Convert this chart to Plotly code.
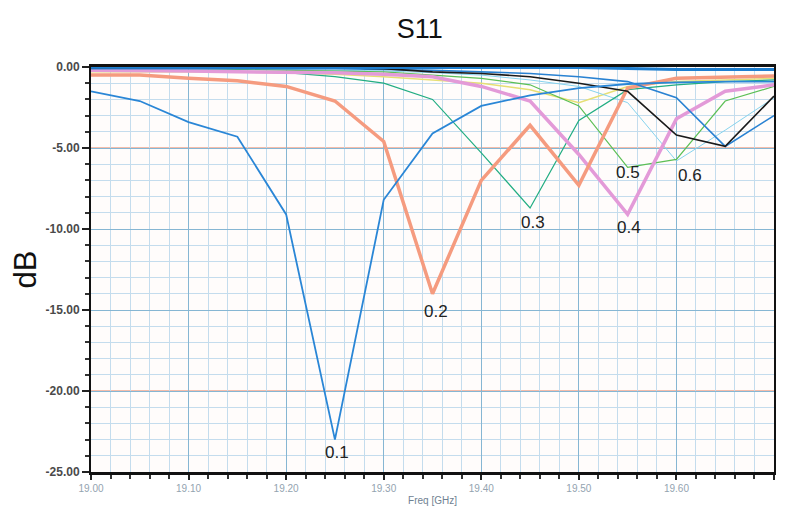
import plotly.graph_objects as go

freq = [19.00, 19.05, 19.10, 19.15, 19.20, 19.25, 19.30, 19.35, 19.40, 19.45, 19.50, 19.55, 19.60, 19.65, 19.70]

s_ref = [-0.02, -0.02, -0.02, -0.02, -0.02, -0.02, -0.02, -0.02, -0.02, -0.02, -0.03, -0.1, -0.15, -0.15, -0.15]
s_01 = [-1.5, -2.1, -3.4, -4.3, -9.1, -23.0, -8.2, -4.1, -2.4, -1.75, -1.3, -1.05, -0.95, -0.9, -0.9]
s_02 = [-0.5, -0.5, -0.7, -0.85, -1.2, -2.1, -4.6, -14.0, -7.0, -3.6, -7.3, -1.3, -0.7, -0.6, -0.55]
s_03 = [-0.15, -0.2, -0.25, -0.3, -0.35, -0.6, -1.0, -2.0, -5.3, -8.7, -3.3, -1.4, -1.1, -0.9, -0.8]
s_04 = [-0.2, -0.2, -0.25, -0.3, -0.3, -0.35, -0.45, -0.6, -1.2, -2.1, -5.4, -9.1, -3.2, -1.5, -1.1]
s_05 = [-0.1, -0.1, -0.1, -0.15, -0.2, -0.25, -0.3, -0.5, -0.7, -1.1, -2.4, -6.2, -5.7, -2.1, -1.2]
s_06 = [-0.1, -0.1, -0.1, -0.1, -0.15, -0.2, -0.25, -0.35, -0.5, -0.8, -1.2, -2.2, -5.8, -3.9, -1.9]
s_07 = [-0.05, -0.05, -0.05, -0.05, -0.05, -0.05, -0.1, -0.3, -0.4, -0.6, -1.0, -1.5, -4.2, -4.9, -1.8]
s_08 = [-0.1, -0.1, -0.1, -0.1, -0.1, -0.1, -0.15, -0.2, -0.3, -0.4, -0.6, -0.9, -1.9, -4.9, -3.0]
s_yel = [-0.3, -0.3, -0.3, -0.3, -0.35, -0.45, -0.6, -0.8, -1.0, -1.4, -2.2, -1.2, -0.9, -0.8, -0.7]

labels = ["0.1", "0.2", "0.3", "0.4", "0.5", "0.6"]
label_x = [19.252, 19.354, 19.453, 19.551, 19.550, 19.614]
label_y = [-23.8, -15.1, -9.6, -9.9, -6.5, -6.7]

x_ticks = [19.00, 19.10, 19.20, 19.30, 19.40, 19.50, 19.60, 19.70]
x_ticktext = ["19.00", "19.10", "19.20", "19.30", "19.40", "19.50", "19.60", "19.70"]
y_ticks = [0, -5, -10, -15, -20, -25]
y_ticktext = ["0.00", "-5.00", "-10.00", "-15.00", "-20.00", "-25.00"]
highlight_levels = [-5, -20]

fig = go.Figure()

series = [
    (s_yel, "#e6df74", 1.5),
    (s_06, "#86d3ee", 1.0),
    (s_05, "#5cbf55", 1.2),
    (s_03, "#22ad82", 1.2),
    (s_04, "#e39ad8", 3.5),
    (s_02, "#f59b7f", 3.5),
    (s_08, "#2a82d2", 1.6),
    (s_07, "#1a1a1a", 1.6),
    (s_01, "#2a86d6", 1.8),
    (s_ref, "#1f7fd0", 3.0),
]
for ys, col, w in series:
    fig.add_trace(go.Scatter(x=freq, y=ys, mode="lines",
                             line=dict(color=col, width=w), showlegend=False,
                             hoverinfo="skip", cliponaxis=False))

for lv in highlight_levels:
    fig.add_shape(type="line", xref="paper", x0=0, x1=1, yref="y", y0=lv, y1=lv,
                  line=dict(color="#f0a890", width=1.5), layer="below")

for t, xx, yy in zip(labels, label_x, label_y):
    fig.add_annotation(x=xx, y=yy, text=t, showarrow=False,
                       font=dict(family="Liberation Sans, Arial", size=17, color="#222"))

# page body has an 8px default margin, so the figure is sized to compensate
fig.update_layout(
    width=777, height=505,
    margin=dict(l=83, r=11, t=59, b=41, autoexpand=False),
    paper_bgcolor="white",
    plot_bgcolor="#fffcfb",
    title=dict(text="S11", x=0.530, xanchor="center", y=0.960, yanchor="middle",
               font=dict(family="Liberation Sans, Arial", size=27, color="#111")),
    font=dict(family="Liberation Sans, Arial"),
)

fig.update_xaxes(
    range=[19.0, 19.7], tickvals=x_ticks, ticktext=x_ticktext, automargin=False,
    tickfont=dict(size=10, color="#93a3b0"),
    showline=True, linecolor="#111", linewidth=2.5, mirror=True, layer="below traces",
    ticks="outside", ticklen=5, tickcolor="#222", tickwidth=1.5,
    showgrid=True, gridcolor="#86b6d3", gridwidth=1,
    minor=dict(dtick=0.02, tick0=19.0, showgrid=True, gridcolor="#c4dced", gridwidth=1,
               ticks="outside", ticklen=4, tickcolor="#333"),
    title=dict(text="Freq [GHz]", font=dict(size=10, color="#6f8292"), standoff=5),
    zeroline=False,
)
fig.update_yaxes(
    range=[-25, 0], tickvals=y_ticks, ticktext=y_ticktext, automargin=False,
    tickfont=dict(size=12, color="#4a4a4a", weight="bold"),
    showline=True, linecolor="#111", linewidth=2, mirror=True, layer="below traces",
    ticks="outside", ticklen=7, tickcolor="#222", tickwidth=1.5,
    showgrid=True, gridcolor="#86b6d3", gridwidth=1,
    minor=dict(dtick=1, tick0=0, showgrid=True, gridcolor="#c4dced", gridwidth=1,
               ticks="outside", ticklen=4, tickcolor="#333"),
    title=dict(text="dB", font=dict(size=31, color="#111"), standoff=6),
    zeroline=False,
)

fig.write_html("out.html")
